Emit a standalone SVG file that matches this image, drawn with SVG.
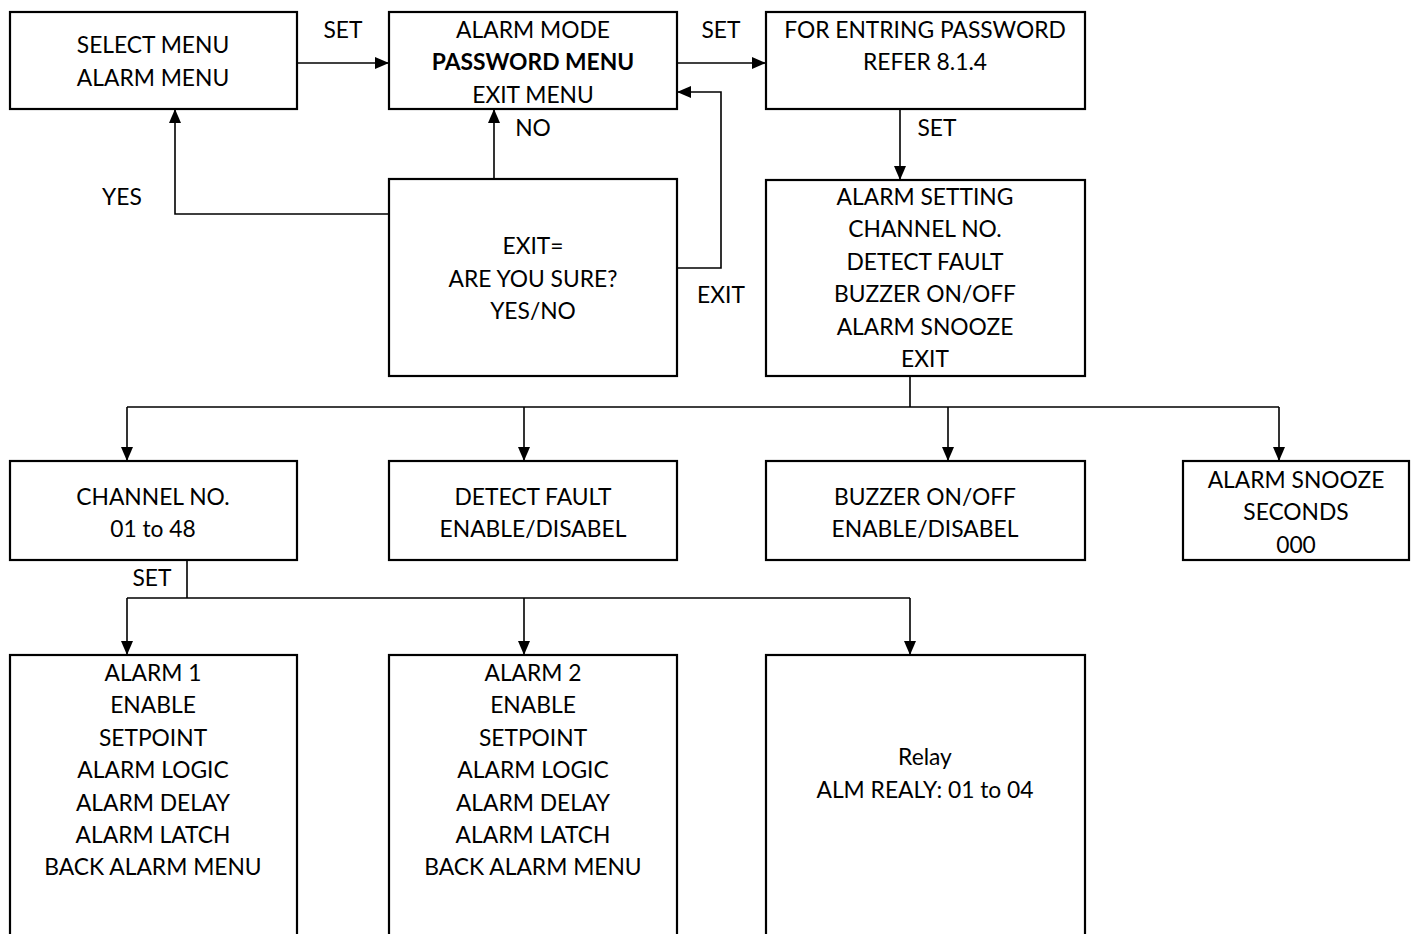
<svg xmlns="http://www.w3.org/2000/svg" width="1413" height="934" viewBox="0 0 1413 934">
<style>
.box{fill:#fff;stroke:#000;stroke-width:2.2}
.c{fill:none;stroke:#000;stroke-width:1.6}
text{font-family:Lato,"Liberation Sans",sans-serif;font-size:22.8px;fill:#000;text-anchor:middle}
.b{font-weight:bold}
</style>
<defs>
<marker id="ah" markerUnits="userSpaceOnUse" markerWidth="14" markerHeight="12" refX="14" refY="6" orient="auto">
<path d="M0,0 L14,6 L0,12 z" fill="#000"/>
</marker>
</defs>
<rect width="1413" height="934" fill="#fff"/>
<g id="connectors">
<path class="c" d="M297,63 H389" marker-end="url(#ah)"/>
<path class="c" d="M677,63 H766" marker-end="url(#ah)"/>
<path class="c" d="M389,214 H175 V109" marker-end="url(#ah)"/>
<path class="c" d="M494,179 V109" marker-end="url(#ah)"/>
<path class="c" d="M677,268 H721 V92 H677" marker-end="url(#ah)"/>
<path class="c" d="M900,109 V180" marker-end="url(#ah)"/>
<path class="c" d="M910,376 V407 M127,407 H1279"/>
<path class="c" d="M127,407 V461" marker-end="url(#ah)"/>
<path class="c" d="M524,407 V461" marker-end="url(#ah)"/>
<path class="c" d="M948,407 V461" marker-end="url(#ah)"/>
<path class="c" d="M1279,407 V461" marker-end="url(#ah)"/>
<path class="c" d="M187,560 V598 M127,598 H910"/>
<path class="c" d="M127,598 V655" marker-end="url(#ah)"/>
<path class="c" d="M524,598 V655" marker-end="url(#ah)"/>
<path class="c" d="M910,598 V655" marker-end="url(#ah)"/>
<text x="343" y="38">SET</text>
<text x="721" y="38">SET</text>
<text x="533" y="136">NO</text>
<text x="937" y="136">SET</text>
<text x="122" y="205">YES</text>
<text x="721" y="303">EXIT</text>
<text x="152" y="586">SET</text>
</g>
<g id="selectMenu">
<rect class="box" x="10" y="12" width="287" height="97"/>
<text x="153" y="53">SELECT MENU</text>
<text x="153" y="86">ALARM MENU</text>
</g>
<g id="alarmMode">
<rect class="box" x="389" y="12" width="288" height="97"/>
<text x="533" y="38">ALARM MODE</text>
<text x="533" y="70" class="b">PASSWORD MENU</text>
<text x="533" y="103">EXIT MENU</text>
</g>
<g id="password">
<rect class="box" x="766" y="12" width="319" height="97"/>
<text x="925" y="38">FOR ENTRING PASSWORD</text>
<text x="925" y="70">REFER 8.1.4</text>
</g>
<g id="exitConfirm">
<rect class="box" x="389" y="179" width="288" height="197"/>
<text x="533" y="254">EXIT=</text>
<text x="533" y="287">ARE YOU SURE?</text>
<text x="533" y="319">YES/NO</text>
</g>
<g id="alarmSetting">
<rect class="box" x="766" y="180" width="319" height="196"/>
<text x="925" y="205">ALARM SETTING</text>
<text x="925" y="237">CHANNEL NO.</text>
<text x="925" y="270">DETECT FAULT</text>
<text x="925" y="302">BUZZER ON/OFF</text>
<text x="925" y="335">ALARM SNOOZE</text>
<text x="925" y="367">EXIT</text>
</g>
<g id="channelNo">
<rect class="box" x="10" y="461" width="287" height="99"/>
<text x="153" y="505">CHANNEL NO.</text>
<text x="153" y="537">01 to 48</text>
</g>
<g id="detectFault">
<rect class="box" x="389" y="461" width="288" height="99"/>
<text x="533" y="505">DETECT FAULT</text>
<text x="533" y="537">ENABLE/DISABEL</text>
</g>
<g id="buzzer">
<rect class="box" x="766" y="461" width="319" height="99"/>
<text x="925" y="505">BUZZER ON/OFF</text>
<text x="925" y="537">ENABLE/DISABEL</text>
</g>
<g id="snooze">
<rect class="box" x="1183" y="461" width="226" height="99"/>
<text x="1296" y="488">ALARM SNOOZE</text>
<text x="1296" y="520">SECONDS</text>
<text x="1296" y="553">000</text>
</g>
<g id="alarm1">
<rect class="box" x="10" y="655" width="287" height="300"/>
<text x="153" y="681">ALARM 1</text>
<text x="153" y="713">ENABLE</text>
<text x="153" y="746">SETPOINT</text>
<text x="153" y="778">ALARM LOGIC</text>
<text x="153" y="811">ALARM DELAY</text>
<text x="153" y="843">ALARM LATCH</text>
<text x="153" y="875">BACK ALARM MENU</text>
</g>
<g id="alarm2">
<rect class="box" x="389" y="655" width="288" height="300"/>
<text x="533" y="681">ALARM 2</text>
<text x="533" y="713">ENABLE</text>
<text x="533" y="746">SETPOINT</text>
<text x="533" y="778">ALARM LOGIC</text>
<text x="533" y="811">ALARM DELAY</text>
<text x="533" y="843">ALARM LATCH</text>
<text x="533" y="875">BACK ALARM MENU</text>
</g>
<g id="relay">
<rect class="box" x="766" y="655" width="319" height="300"/>
<text x="925" y="765">Relay</text>
<text x="925" y="798">ALM REALY: 01 to 04</text>
</g>
</svg>
